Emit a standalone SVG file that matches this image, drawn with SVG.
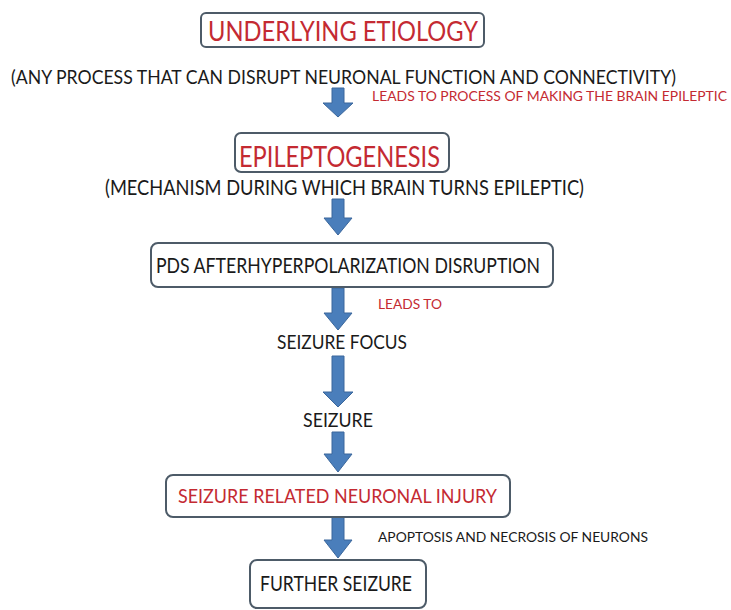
<svg xmlns="http://www.w3.org/2000/svg" width="731" height="610" viewBox="0 0 731 610">
<style>
.box{fill:#ffffff;stroke:#4d5b68;stroke-width:2}
.t{font-family:Lato,"Open Sans","Liberation Sans",sans-serif;fill:#1a1a1a}
.r{fill:#c42a32}
.arr{fill:#4a7ebb;stroke:#3b679c;stroke-width:1}
</style>
<rect width="731" height="610" fill="#ffffff"/>
<g id="connectors">
<path class="arr" d="M332,88 h12 v15 h9 l-15,14 l-15,-14 h9 z"/>
<path class="arr" d="M332,199 h12 v19 h8 l-14,17 l-14,-17 h8 z"/>
<path class="arr" d="M332,288 h12 v25 h8 l-14,17 l-14,-17 h8 z"/>
<path class="arr" d="M332,356 h12 v36 h9 l-15,15 l-15,-15 h9 z"/>
<path class="arr" d="M332,432 h12 v22 h8 l-14,18 l-14,-18 h8 z"/>
<path class="arr" d="M332,517 h12 v23 h8 l-14,18 l-14,-18 h8 z"/>
</g>
<g id="n1">
<rect class="box" x="201" y="13" width="283" height="34" rx="5"/>
<text class="t r" x="208" y="41" font-size="27" textLength="270" lengthAdjust="spacingAndGlyphs">UNDERLYING ETIOLOGY</text>
</g>
<g id="n1desc">
<text class="t" x="11" y="84" font-size="19" textLength="665" lengthAdjust="spacingAndGlyphs">(ANY PROCESS THAT CAN DISRUPT NEURONAL FUNCTION AND CONNECTIVITY)</text>
</g>
<g id="label1">
<text class="t r" x="372" y="101" font-size="12.5" textLength="355" lengthAdjust="spacingAndGlyphs">LEADS TO  PROCESS OF MAKING THE BRAIN EPILEPTIC</text>
</g>
<g id="n2">
<rect class="box" x="235" y="133" width="214" height="39" rx="6"/>
<text class="t r" x="239" y="167" font-size="29" textLength="201" lengthAdjust="spacingAndGlyphs">EPILEPTOGENESIS</text>
</g>
<g id="n2desc">
<text class="t" x="105" y="195" font-size="21" textLength="479" lengthAdjust="spacingAndGlyphs">(MECHANISM DURING WHICH BRAIN TURNS EPILEPTIC)</text>
</g>
<g id="n3">
<rect class="box" x="151" y="243" width="402" height="44" rx="7"/>
<text class="t" x="156" y="273" font-size="21" textLength="384" lengthAdjust="spacingAndGlyphs">PDS AFTERHYPERPOLARIZATION DISRUPTION</text>
</g>
<g id="label2">
<text class="t r" x="378" y="309" font-size="13" textLength="64" lengthAdjust="spacingAndGlyphs">LEADS TO</text>
</g>
<g id="n4">
<text class="t" x="277" y="349" font-size="20" textLength="130" lengthAdjust="spacingAndGlyphs">SEIZURE FOCUS</text>
</g>
<g id="n5">
<text class="t" x="303" y="427" font-size="20" textLength="70" lengthAdjust="spacingAndGlyphs">SEIZURE</text>
</g>
<g id="n6">
<rect class="box" x="166" y="475" width="344" height="42" rx="7"/>
<text class="t r" x="178" y="503" font-size="20" textLength="319" lengthAdjust="spacingAndGlyphs">SEIZURE RELATED NEURONAL INJURY</text>
</g>
<g id="label3">
<text class="t" x="378" y="542" font-size="13" textLength="270" lengthAdjust="spacingAndGlyphs">APOPTOSIS AND NECROSIS OF NEURONS</text>
</g>
<g id="n7">
<rect class="box" x="250" y="560" width="176" height="48" rx="7"/>
<text class="t" x="260" y="591" font-size="21" textLength="152" lengthAdjust="spacingAndGlyphs">FURTHER SEIZURE</text>
</g>
</svg>
